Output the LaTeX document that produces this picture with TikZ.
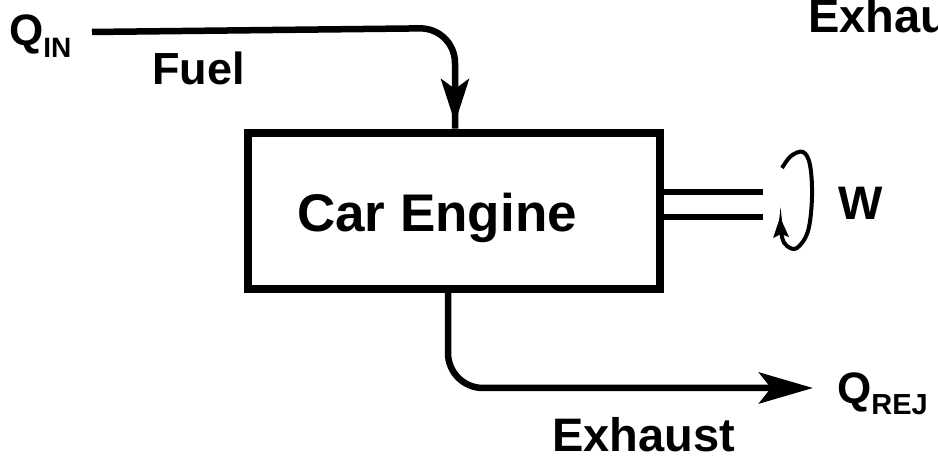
\documentclass[tikz,border=0pt]{standalone}
\usepackage{fontspec}
\setmainfont{Liberation Sans}
\usetikzlibrary{arrows.meta}
\tikzset{
  lbl/.style={inner sep=0pt, anchor=base west, font=\bfseries\fontsize{47}{47}\selectfont},
  flow/.style={line width=6.5pt, rounded corners=35pt},
  enginebox/.style={draw, line width=8.5pt, minimum width=412pt, minimum height=156pt, inner sep=0pt},
  shaft/.style={line width=6.5pt},
  spin/.style={line width=4pt, -{Stealth[length=20pt,width=15pt,inset=3pt]}}
}
\begin{document}
\begin{tikzpicture}[x=1pt,y=1pt]
\useasboundingbox (0,0) rectangle (938,457);
% box
\node[enginebox] (engine) at (454,246) {};
\node[lbl, font=\bfseries\fontsize{53}{53}\selectfont] (enginetxt) at (297,225) {Car Engine};
% labels
\node[lbl, font=\bfseries\fontsize{44}{44}\selectfont] (qin) at (9,411) {Q{\fontsize{28}{28}\selectfont\raisebox{-12pt}{IN}}};
\node[lbl, font=\bfseries\fontsize{45}{45}\selectfont] (fuel) at (152,372) {Fuel};
\node[lbl] (w) at (838,237) {W};
\node[lbl, font=\bfseries\fontsize{44}{44}\selectfont] (qrej) at (837,53) {Q{\fontsize{29}{29}\selectfont\raisebox{-11pt}{REJ}}};
\node[lbl] (exhaust) at (552,5) {Exhaust};
\begin{scope}
\clip (0,0) rectangle (938,457);
\node[lbl] (exhtop) at (808,424) {Exhaust};
\end{scope}
% fuel flow
\coordinate (fstart) at (92,425);
\coordinate (fcorner) at (455,429);
\coordinate (ftip) at (455,334);
\draw[flow] (fstart) -- (fcorner) -- (fcorner |- engine.north);
\draw[line width=6pt, -{Stealth[length=44pt,width=28pt,inset=10pt]}] (455,385) -- (ftip);
% exhaust flow
\coordinate (ecorner) at (448,69);
\coordinate (etip) at (813,69);
\draw[flow, -{Stealth[length=54pt,width=31pt,inset=12pt]}] (ecorner |- engine.south) -- (ecorner) -- (etip);
% shaft
\coordinate (s1) at (763,265);
\coordinate (s2) at (763,240);
\draw[shaft] (s1 -| engine.east) -- (s1);
\draw[shaft] (s2 -| engine.east) -- (s2);
% rotation
\draw[spin] plot[smooth, tension=0.6] coordinates {(782,289) (791,301) (803,305) (810,292) (812,260) (808,226) (797,209) (787,211) (782,220) (780,240)};
\end{tikzpicture}
\end{document}
